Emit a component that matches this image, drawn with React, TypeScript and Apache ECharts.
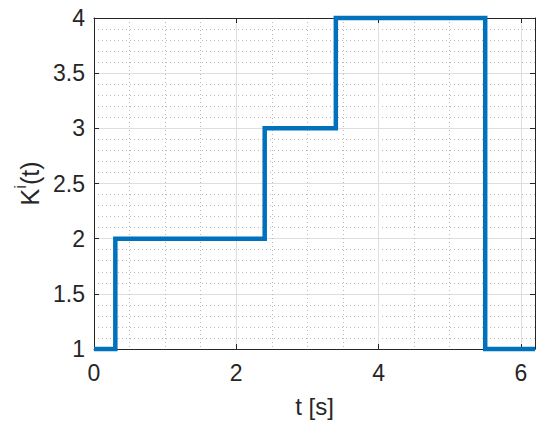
import React, { useEffect, useRef } from "react";
import * as echarts from "echarts";

const stepTimes = [0, 0.3, 2.4, 3.4, 5.5, 6.2];
const stepValues = [1, 2, 3, 4, 1, 1];
const xTicks = [0, 2, 4, 6];
const yTicks = [1, 1.5, 2, 2.5, 3, 3.5, 4];

const FONT = "Liberation Sans, Arial, sans-serif";
const AXIS_COLOR = "#262626";

export default function App() {
  const ref = useRef<HTMLDivElement>(null);
  useEffect(() => {
    if (!ref.current) return;
    const chart = echarts.init(ref.current, null, { renderer: "svg" });
    const data = stepTimes.map((t, i) => [t, stepValues[i]]);
    const commonSplit = {
      show: true,
      lineStyle: { color: "#dedede", width: 1 },
    };
    const commonMinor = {
      show: true,
      lineStyle: { color: "#b8b8b8", width: 1, type: [1, 3] as any },
    };
    chart.setOption({
      animation: false,
      backgroundColor: "#ffffff",
      grid: { left: 94, right: 15, top: 18, bottom: 83, containLabel: false },
      xAxis: [
        {
          type: "value",
          min: 0,
          max: 6.2,
          interval: 2,
          position: "bottom",
          axisLine: { show: true, onZero: false, lineStyle: { color: AXIS_COLOR, width: 1 } },
          axisTick: { show: true, inside: true, length: 5, lineStyle: { color: AXIS_COLOR } },
          axisLabel: {
            show: true,
            color: "#262626",
            fontFamily: FONT,
            fontSize: 23,
            margin: 12,
            showMaxLabel: false,
            formatter: (v: number) => (xTicks.includes(v) ? String(v) : ""),
          },
          splitLine: commonSplit,
          minorTick: { show: false, splitNumber: 4 },
          minorSplitLine: commonMinor,
          name: "t [s]",
          nameLocation: "middle",
          nameGap: 45,
          nameTextStyle: { color: "#262626", fontFamily: FONT, fontSize: 24 },
        },
        {
          type: "value",
          min: 0,
          max: 6.2,
          interval: 2,
          position: "top",
          axisLine: { show: true, onZero: false, lineStyle: { color: AXIS_COLOR, width: 1 } },
          axisTick: { show: true, inside: true, length: 5, lineStyle: { color: AXIS_COLOR } },
          axisLabel: { show: false },
          splitLine: { show: false },
        },
      ],
      yAxis: [
        {
          type: "value",
          min: 1,
          max: 4,
          interval: 0.5,
          position: "left",
          axisLine: { show: true, onZero: false, lineStyle: { color: AXIS_COLOR, width: 1 } },
          axisTick: { show: true, inside: true, length: 5, lineStyle: { color: AXIS_COLOR } },
          axisLabel: {
            show: true,
            color: "#262626",
            fontFamily: FONT,
            fontSize: 23,
            margin: 9,
            formatter: (v: number) => (yTicks.includes(v) ? String(v) : ""),
          },
          splitLine: commonSplit,
          minorTick: { show: false, splitNumber: 5 },
          minorSplitLine: commonMinor,
          name: "{k|K}{s|i}{k|(t)}",
          nameLocation: "middle",
          nameGap: 51,
          nameRotate: 90,
          nameTextStyle: {
            rich: {
              k: { color: "#262626", fontFamily: FONT, fontSize: 25, verticalAlign: "bottom", lineHeight: 30 },
              s: { color: "#262626", fontFamily: FONT, fontSize: 17, verticalAlign: "top", lineHeight: 30 },
            },
          },
        },
        {
          type: "value",
          min: 1,
          max: 4,
          interval: 0.5,
          position: "right",
          axisLine: { show: true, onZero: false, lineStyle: { color: AXIS_COLOR, width: 1 } },
          axisTick: { show: true, inside: true, length: 5, lineStyle: { color: AXIS_COLOR } },
          axisLabel: { show: false },
          splitLine: { show: false },
        },
      ],
      series: [
        {
          type: "line",
          xAxisIndex: 0,
          yAxisIndex: 0,
          data,
          step: "end",
          showSymbol: false,
          symbol: "none",
          clip: false,
          lineStyle: { color: "#0072BD", width: 4.5, join: "miter", cap: "butt" },
          itemStyle: { color: "#0072BD" },
        },
      ],
    });
    return () => chart.dispose();
  }, []);
  return <div ref={ref} style={{ width: 550, height: 432, margin: -8 }} />;
}
